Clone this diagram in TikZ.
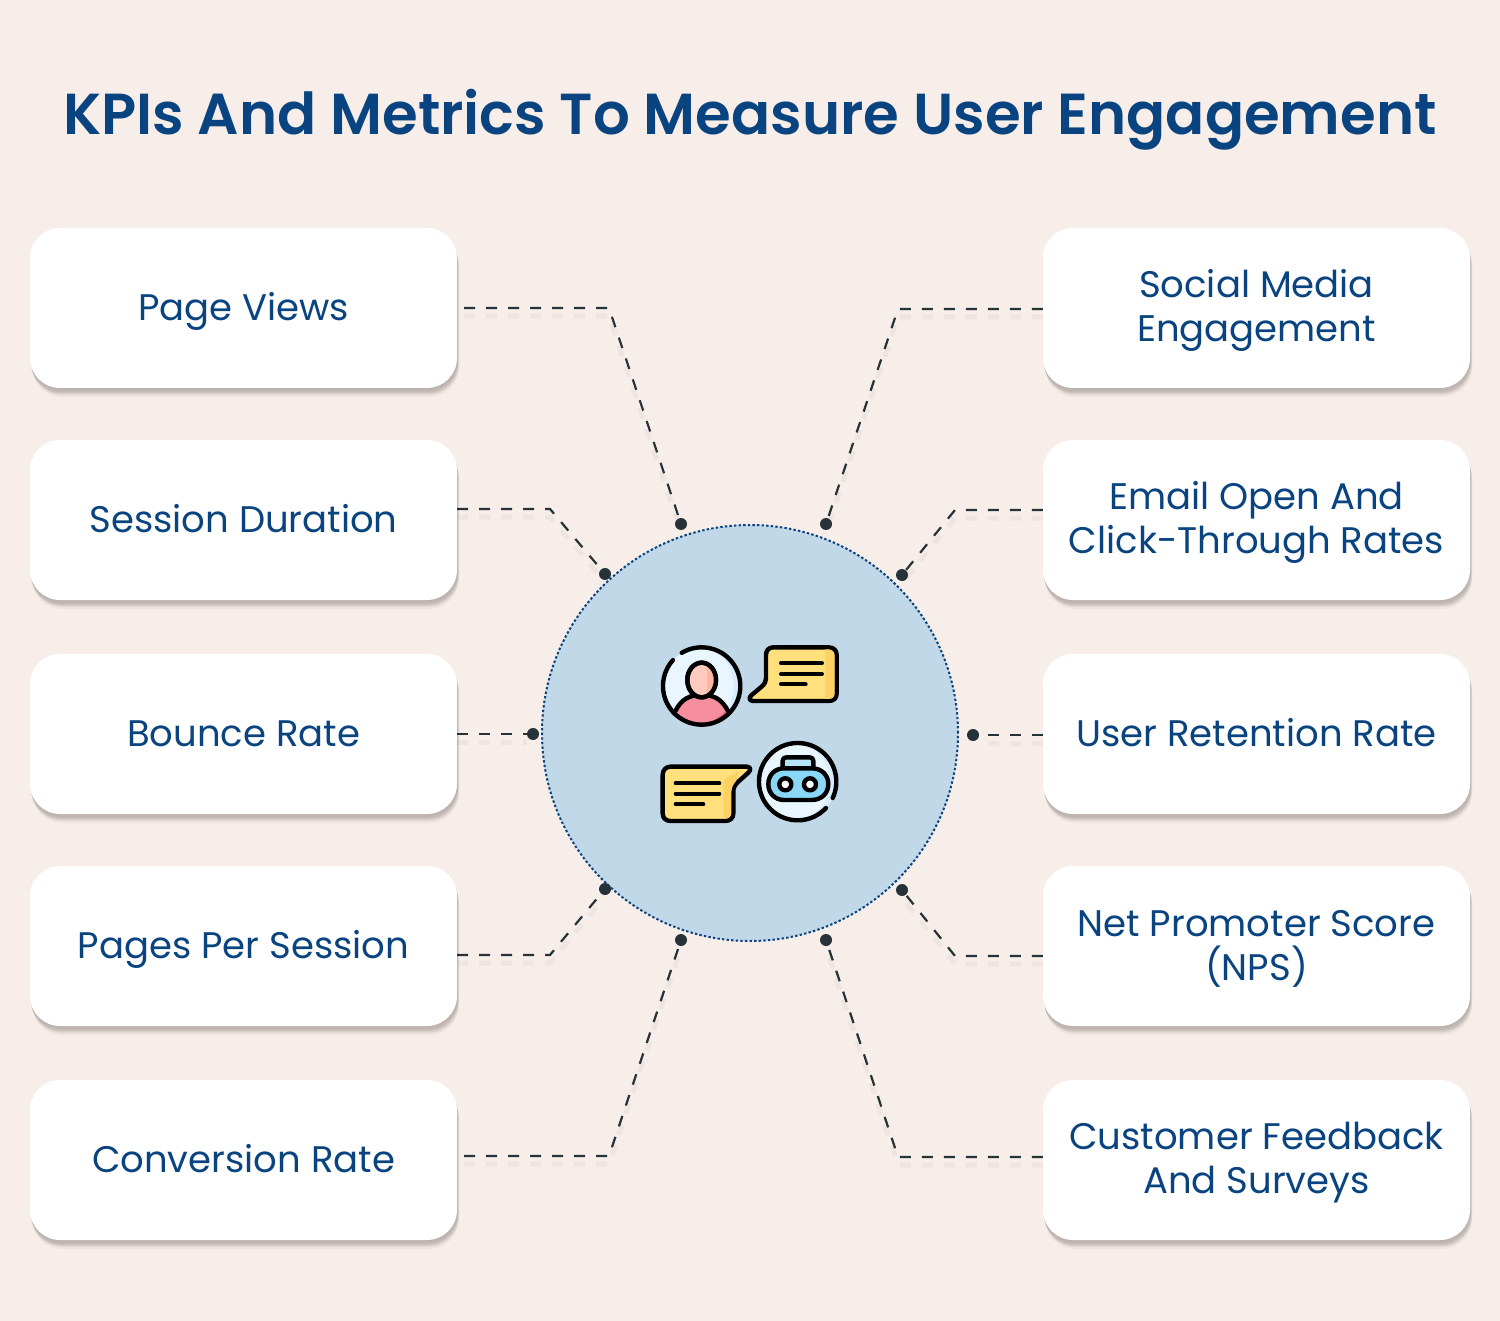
\documentclass[tikz,border=0pt]{standalone}
\usepackage{fontspec}
\setmainfont{Poppins}
\newfontfamily\titlefont{Poppins SemiBold}
\usetikzlibrary{positioning}
\definecolor{bgcol}{HTML}{F7EEE9}
\definecolor{navy}{HTML}{0A4480}
\definecolor{discblue}{HTML}{C1D8E9}
\definecolor{inkdark}{HTML}{263238}
\definecolor{shadecol}{HTML}{6B5F5A}
\definecolor{bubble}{HTML}{FFE07D}
\definecolor{bubbledk}{HTML}{FFD064}
\definecolor{ringfill}{HTML}{EAF6FF}
\definecolor{ringdk}{HTML}{D8ECFE}
\definecolor{bodypink}{HTML}{F58E9D}
\definecolor{bodydk}{HTML}{E7697C}
\definecolor{headcol}{HTML}{FFCBBE}
\definecolor{headdk}{HTML}{FDB4A3}
\definecolor{robotcol}{HTML}{8AD6F7}
\definecolor{handlecol}{HTML}{B5E4F8}
\newcommand{\linestrut}{\rule[-9pt]{0pt}{43pt}}
\begin{document}
\begin{tikzpicture}[x=1pt,y=-1pt]
\tikzstyle{kpibox} = [fill=white,rounded corners=30pt,minimum width=427pt,minimum height=160pt,align=center,text=navy,font=\fontsize{37}{44}\selectfont,
  execute at begin node=\linestrut,execute at end node=\linestrut,
  preaction={fill=shadecol,opacity=.05,transform canvas={xshift=.5pt,yshift=-1pt}},
  preaction={fill=shadecol,opacity=.06,transform canvas={xshift=.5pt,yshift=-3pt}},
  preaction={fill=shadecol,opacity=.08,transform canvas={xshift=1pt,yshift=-4pt}},
  preaction={fill=shadecol,opacity=.09,transform canvas={xshift=1pt,yshift=-5pt}},
  preaction={fill=shadecol,opacity=.09,transform canvas={xshift=1.5pt,yshift=-6pt}},
  preaction={fill=shadecol,opacity=.08,transform canvas={xshift=2pt,yshift=-7pt}},
  preaction={fill=shadecol,opacity=.06,transform canvas={xshift=2pt,yshift=-9pt}}]
\tikzstyle{twoline} = [execute at begin node={\rule[-9pt]{0pt}{86pt}}]
\tikzstyle{link} = [draw=inkdark,line width=2.2pt,dash pattern=on 11pt off 11pt,
  preaction={draw=shadecol,opacity=.06,line width=5pt,dash pattern=on 11pt off 11pt,transform canvas={yshift=-8pt}}]
\tikzstyle{enddot} = [fill=inkdark,shape=circle,inner sep=0pt,minimum size=12pt]
\tikzstyle{icon} = [line width=4.4pt,line cap=round,line join=round,draw=black]
\tikzstyle{bar} = [line width=4pt,line cap=round,draw=black]

\useasboundingbox[fill=bgcol] (0,0) rectangle (1500,1321);

\node[text=navy,font=\titlefont\fontsize{57.8}{60}\selectfont] (title) at (750,120) {KPIs And Metrics To Measure User Engagement};

% left column
\node[kpibox] (views) at (243.5,308) {Page Views};
\node[kpibox] (duration) at (243.5,520) {Session Duration};
\node[kpibox] (bounce) at (243.5,734) {Bounce Rate};
\node[kpibox] (pages) at (243.5,946) {Pages Per Session};
\node[kpibox] (conversion) at (243.5,1160) {Conversion Rate};

% right column
\node[kpibox,twoline] (social) at (1256.5,308) {Social Media\\Engagement};
\node[kpibox,twoline] (email) at (1256.5,520) {Email Open And\\Click-Through Rates};
\node[kpibox] (retention) at (1256.5,734) {User Retention Rate};
\node[kpibox,twoline] (promoter) at (1256.5,946) {Net Promoter Score\\(NPS)};
\node[kpibox,twoline] (feedback) at (1256.5,1160) {Customer Feedback\\And Surveys};

\node[circle,fill=discblue,draw=navy,line width=2pt,dash pattern=on 2.4pt off 2.2pt,minimum size=416pt,inner sep=0pt] (disc) at (750,733) {};

\node[enddot] (d1) at (681,524) {};
\node[enddot] (d2) at (605,574) {};
\node[enddot] (d3) at (533,734) {};
\node[enddot] (d4) at (605,889) {};
\node[enddot] (d5) at (681,940) {};
\node[enddot] (d6) at (826,524) {};
\node[enddot] (d7) at (902,575) {};
\node[enddot] (d8) at (973,735) {};
\node[enddot] (d9) at (902,890) {};
\node[enddot] (d10) at (826,940) {};

\coordinate (b1) at (609,308);
\coordinate (b2) at (550,509);
\coordinate (b4) at (550,955);
\coordinate (b5) at (609,1156);
\coordinate (b6) at (898,309);
\coordinate (b7) at (955,510);
\coordinate (b9) at (955,956);
\coordinate (b10) at (898,1157);

\draw[link] ([xshift=7pt]views.east) -- (b1) -- (d1);
\draw[link] (duration.east |- b2) -- (b2) -- (d2);
\draw[link] (bounce.east |- d3) -- (d3);
\draw[link] (pages.east |- b4) -- (b4) -- (d4);
\draw[link] ([xshift=7pt]conversion.east |- b5) -- (b5) -- (d5);
\draw[link] (social.west |- b6) -- (b6) -- (d6);
\draw[link] (email.west |- b7) -- (b7) -- (d7);
\draw[link] (retention.west |- d8) -- (d8);
\draw[link] (promoter.west |- b9) -- (b9) -- (d9);
\draw[link] (feedback.west |- b10) -- (b10) -- (d10);

% icons
\begin{scope}[shift={(640,630)},x=.3333pt,y=-.3333pt]
% user
\fill[ringfill] (185,168) circle (116);
\fill[ringdk] (185,52) .. controls (250,52) and (301,103) .. (301,168) .. controls (301,233) and (250,284) .. (185,284) .. controls (235,278) and (281,233) .. (281,168) .. controls (281,103) and (235,58) .. (185,52);
\begin{scope}
\clip (185,168) circle (116);
\fill[bodypink] (105,245) .. controls (125,205) and (150,195) .. (185,195) .. controls (220,195) and (245,205) .. (265,245) -- (265,300) -- (105,300) -- cycle;
\fill[bodydk] (265,235) -- (265,300) -- (160,300) .. controls (200,285) and (240,265) .. (265,235);
\draw[line width=4.4pt] (105,245) .. controls (125,205) and (150,195) .. (185,195) .. controls (220,195) and (245,205) .. (265,245);
\end{scope}
\filldraw[icon,fill=headcol] (185,150) ellipse (43 and 52);
\fill[headdk] (195,102) .. controls (215,110) and (226,130) .. (226,150) .. controls (226,175) and (215,192) .. (195,198) .. controls (205,175) and (205,125) .. (195,102);
\draw[icon] (185,150) ellipse (43 and 52);
\draw[icon] ([shift={(239:116)}]185,168) arc (239:582:116);
% bubble top
\filldraw[icon,fill=bubble] (378,75) .. controls (378,60) and (388,52) .. (400,52) -- (565,52) .. controls (582,52) and (590,62) .. (590,75) -- (590,190) .. controls (590,205) and (582,213) .. (565,213) -- (340,213) .. controls (328,213) and (325,203) .. (335,195) -- (365,170) .. controls (375,160) and (378,155) .. (378,145) -- cycle;
\fill[bubbledk] (556,58) -- (567,58) .. controls (578,60) and (584,66) .. (584,78) -- (584,190) .. controls (584,200) and (578,207) .. (565,207) -- (556,207) .. controls (556,150) and (556,110) .. (556,58);
\draw[bar] (423,100) -- (546,100);
\draw[bar] (423,132) -- (546,132);
\draw[bar] (423,163) -- (497,163);
% bubble bottom
\filldraw[icon,fill=bubble] (68,435) .. controls (68,420) and (78,410) .. (92,410) -- (320,410) .. controls (332,410) and (334,420) .. (325,428) -- (295,455) .. controls (285,465) and (280,472) .. (280,485) -- (280,550) .. controls (280,565) and (270,573) .. (255,573) -- (92,573) .. controls (78,573) and (68,565) .. (68,550) -- cycle;
\fill[bubbledk] (250,450) .. controls (270,440) and (280,430) .. (295,422) -- (290,450) .. controls (278,465) and (274,475) .. (274,490) -- (274,550) .. controls (274,560) and (265,567) .. (250,567) -- cycle;
\draw[bar] (107,460) -- (238,460);
\draw[bar] (107,491) -- (238,491);
\draw[bar] (107,523) -- (190,523);
% robot
\fill[ringfill] (473,455) circle (116);
\fill[ringdk] (473,339) .. controls (538,339) and (589,390) .. (589,455) .. controls (589,520) and (538,571) .. (473,571) .. controls (523,565) and (569,520) .. (569,455) .. controls (569,390) and (523,345) .. (473,339);
\draw[icon] ([shift={(43:116)}]473,455) arc (43:385:116);
\filldraw[icon,fill=handlecol] (428,415) -- (428,392) .. controls (428,385) and (433,382) .. (440,382) -- (508,382) .. controls (515,382) and (520,385) .. (520,392) -- (520,415) -- cycle;
\filldraw[icon,fill=robotcol] (432,415) -- (515,415) .. controls (545,415) and (565,435) .. (565,462) .. controls (565,490) and (545,510) .. (515,510) -- (432,510) .. controls (405,510) and (385,490) .. (385,462) .. controls (385,435) and (405,415) .. (432,415) -- cycle;
\filldraw[icon,fill=white] (436,463) circle (18);
\filldraw[icon,fill=white] (510,463) circle (18);
\end{scope}
\end{tikzpicture}
\end{document}
